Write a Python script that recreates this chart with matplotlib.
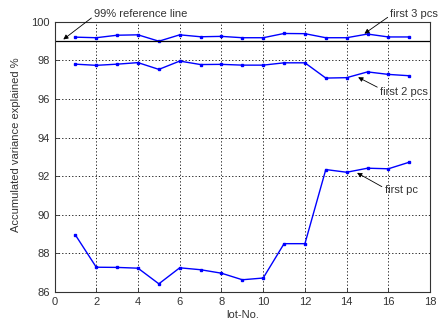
import matplotlib
matplotlib.use("Agg")
import matplotlib.pyplot as plt

plt.rcParams['font.family'] = ['Liberation Sans', 'DejaVu Sans']

lots = list(range(1, 18))
first_pc = [88.95, 87.28, 87.27, 87.23, 86.42, 87.25, 87.15, 86.97, 86.63, 86.72,
            88.5, 88.5, 92.34, 92.2, 92.41, 92.38, 92.72]
first_2pcs = [97.8, 97.74, 97.8, 97.88, 97.53, 97.96, 97.78, 97.79, 97.75, 97.75,
              97.87, 97.87, 97.08, 97.1, 97.4, 97.27, 97.2]
first_3pcs = [99.2, 99.17, 99.3, 99.32, 98.99, 99.32, 99.22, 99.24, 99.17, 99.17,
              99.39, 99.38, 99.17, 99.17, 99.36, 99.21, 99.21]
ref_level = 99
xticks = list(range(0, 19, 2))
yticks = list(range(86, 101, 2))

fig = plt.figure(figsize=(4.38, 3.24), dpi=100)
ax = fig.add_axes([0.1245, 0.099, 0.8575, 0.834])

col = (0, 0, 1)
for series in (first_pc, first_2pcs, first_3pcs):
    ax.plot(lots, series, color=col, lw=1.0, marker='s', ms=1.8, mec=col, mfc=col)
ax.plot([0, 18], [ref_level, ref_level], color='black', lw=0.9)

ax.set_xlim(0, 18)
ax.set_ylim(86, 100)
ax.set_xticks(xticks)
ax.set_yticks(yticks)
ax.grid(True, color='black', linestyle=(0, (1.5, 2.5)), lw=0.6)
ax.tick_params(labelsize=8, direction='in', length=3, colors='#333333', width=0.6)
for s in ax.spines.values():
    s.set_linewidth(0.8)
    s.set_color('#333333')

ax.set_xlabel('lot-No.', fontsize=8, color='#333333', labelpad=2)
ax.set_ylabel('Accumulated variance explained %', fontsize=8, color='#333333', labelpad=4)
ax.yaxis.set_label_coords(-0.09, 0.545)


def arrow(rp):
    return dict(arrowstyle='-|>', color='black', lw=0.6, mutation_scale=7,
                relpos=rp, shrinkA=0, shrinkB=0)


ax.annotate('99% reference line', xy=(0.42, 99.08), xytext=(1.9, 100.38),
            fontsize=8, color='#333333', va='center', ha='left', annotation_clip=False,
            arrowprops=arrow((0, 0.35)))
ax.annotate('first 3 pcs', xy=(14.85, 99.38), xytext=(16.1, 100.38),
            fontsize=8, color='#333333', va='center', ha='left', annotation_clip=False,
            arrowprops=arrow((0, 0.4)))
ax.annotate('first 2 pcs', xy=(14.55, 97.12), xytext=(15.6, 96.38),
            fontsize=8, color='#333333', va='center', ha='left', annotation_clip=False,
            arrowprops=arrow((0, 0.8)))
ax.annotate('first pc', xy=(14.5, 92.17), xytext=(15.82, 91.27),
            fontsize=8, color='#333333', va='center', ha='left', annotation_clip=False,
            arrowprops=arrow((0, 0.7)))

fig.savefig('out.png', dpi=100)
